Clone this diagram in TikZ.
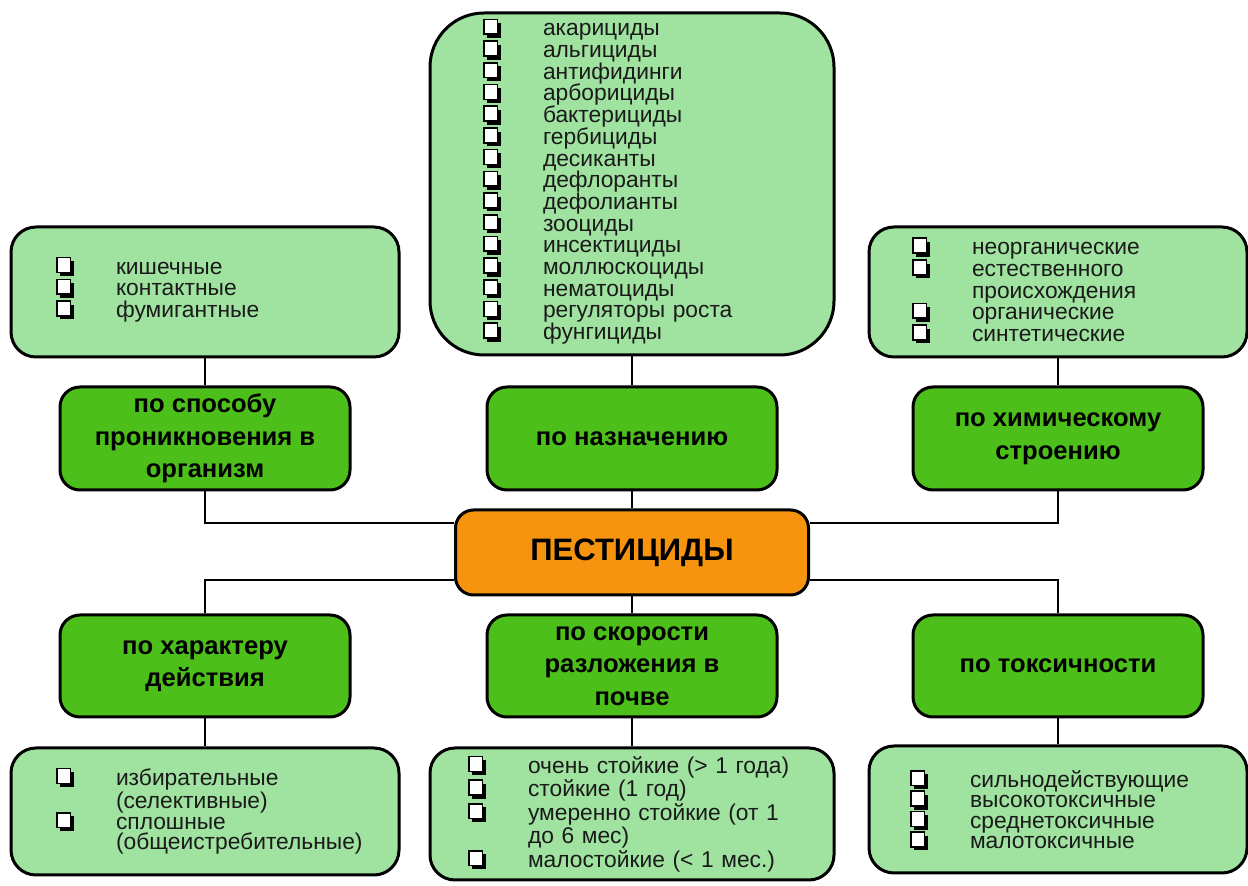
\documentclass[tikz,border=0pt]{standalone}
\usepackage{fontspec}
\setmainfont{Liberation Sans}

\definecolor{leaf}{HTML}{A0E3A0}
\definecolor{grass}{HTML}{4DBF1B}
\definecolor{amber}{HTML}{F7940F}
\definecolor{ink}{HTML}{1A1A1A}

% shadowed bullet box, and a blank of the same width for wrapped lines
\newcommand\ck{\makebox[30pt][l]{\smash{\tikz[baseline=0pt, sharp corners]{\fill[black] (1.8pt,-1pt) rectangle (8.6pt,6.4pt); \filldraw[draw=black, fill=white, line width=0.8pt] (0pt,0.8pt) rectangle (6.8pt,8.2pt);}}}}
\newcommand\nb{\hspace*{30pt}}

\begin{document}
\begin{tikzpicture}[x=0.5pt, y=-0.5pt,
    listbox/.style={draw, line width=1.5pt, fill=leaf, rounded corners=12.5pt, align=left, text=ink, inner ysep=2pt, font=\fontsize{11.4}{10.85}\selectfont},
    headbox/.style={draw, line width=1.5pt, fill=grass, rounded corners=10pt, align=center, minimum width=145pt, font=\bfseries\fontsize{12.8}{16.3}\selectfont},
    link/.style={line width=0.7pt}]
    \path[fill=white, use as bounding box] (0,0) rectangle (1248,886);

    \node[listbox, text width=149pt, inner xsep=22.5pt, minimum height=65pt] (entry) at (205, 292) {\ck кишечные\\ \ck контактные\\ \ck фумигантные};
    \node[listbox, text width=149pt, inner xsep=26.5pt, minimum height=171pt, rounded corners=27pt] (purpose) at (632, 184) {\ck акарициды\\ \ck альгициды\\ \ck антифидинги\\ \ck арборициды\\ \ck бактерициды\\ \ck гербициды\\ \ck десиканты\\ \ck дефлоранты\\ \ck дефолианты\\ \ck зооциды\\ \ck инсектициды\\ \ck моллюскоциды\\ \ck нематоциды\\ \ck регуляторы роста\\ \ck фунгициды};
    \node[listbox, text width=146pt, inner xsep=21.5pt, minimum height=65pt] (chem) at (1058, 292) {\ck неорганические\\ \ck естественного\\ \nb происхождения\\ \ck органические\\ \ck синтетические};

    \node[headbox, minimum height=51.5pt] (entryhead) at (205, 438.5) {по способу\\ проникновения в\\ организм};
    \node[headbox, minimum height=51.5pt] (purposehead) at (632, 438.5) {по назначению};
    \node[headbox, minimum height=51.5pt] (chemhead) at (1058, 438.5) {по химическому\\ строению};

    \node[draw, line width=1.5pt, fill=amber, rounded corners=9pt, minimum width=176.5pt, minimum height=42.5pt, font=\bfseries\fontsize{15.5}{17}\selectfont] (root) at (632, 552.5) {ПЕСТИЦИДЫ};

    \node[headbox, minimum height=51pt] (modehead) at (205, 666) {по характеру\\ действия};
    \node[headbox, minimum height=51pt] (decayhead) at (632, 666) {по скорости\\ разложения в\\ почве};
    \node[headbox, minimum height=51pt] (toxhead) at (1058, 666) {по токсичности};

    \node[listbox, text width=149pt, inner xsep=22.5pt, minimum height=63.5pt, font=\fontsize{11.4}{10.4}\selectfont] (mode) at (205, 811.5) {\ck избирательные\\ \nb (селективные)\\ \ck сплошные\\ \nb (общеистребительные)};
    \node[listbox, text width=164pt, inner xsep=19pt, minimum height=66pt, font=\fontsize{11.4}{9.6}\selectfont] (decay) at (632, 814) {\ck очень стойкие (> 1 года)\\ \ck стойкие (1 год)\\ \ck умеренно стойкие (от 1\\ \nb до 6 мес)\\ \ck малостойкие (< 1 мес.)};
    \node[listbox, text width=148pt, inner xsep=20.5pt, minimum height=63.5pt, font=\fontsize{11.4}{10.2}\selectfont] (tox) at (1058, 809.5) {\ck сильнодействующие\\ \ck высокотоксичные\\ \ck среднетоксичные\\ \ck малотоксичные};

    % upper branches
    \draw[link] (entry) -- (entryhead);
    \draw[link] (purpose) -- (purposehead);
    \draw[link] (chem) -- (chemhead);
    \draw[link] (entryhead) |- ([yshift=14.75pt]root.west);
    \draw[link] (purposehead) -- (root);
    \draw[link] (chemhead) |- ([yshift=14.75pt]root.east);

    % lower branches
    \draw[link] ([yshift=-13.75pt]root.west) -| (modehead);
    \draw[link] (root) -- (decayhead);
    \draw[link] ([yshift=-13.75pt]root.east) -| (toxhead);
    \draw[link] (modehead) -- (mode);
    \draw[link] (decayhead) -- (decay);
    \draw[link] (toxhead) -- (tox);
\end{tikzpicture}
\end{document}
